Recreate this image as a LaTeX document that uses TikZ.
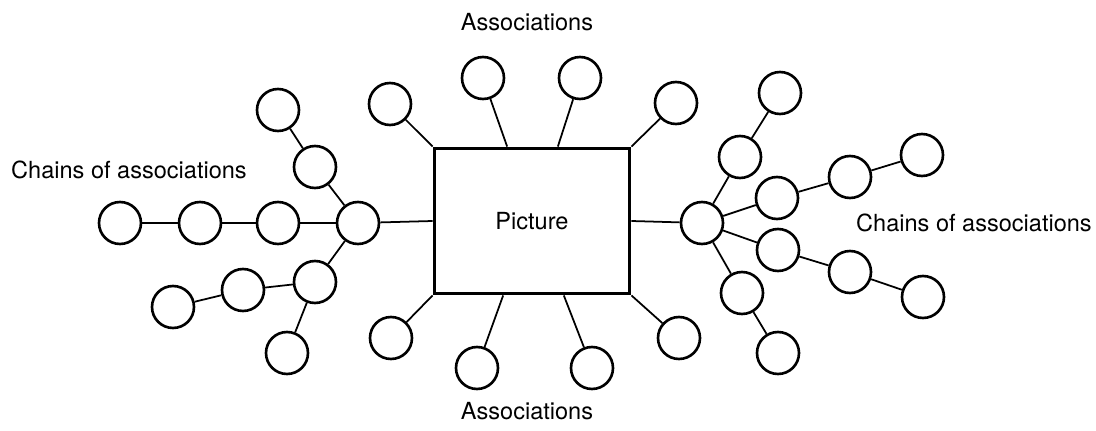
\documentclass[tikz,border=0pt]{standalone}
\usepackage{fontspec}
\setmainfont{TeX Gyre Heros}
\usepackage{tikz}
\usetikzlibrary{calc}
\tikzset{
  assoc/.style = {draw, circle, line width=1.5pt, inner sep=0pt, minimum size=0.84cm},
  frame/.style = {draw, line width=2.2pt, rectangle, minimum width=3.9cm,
                  minimum height=2.9cm, align=center},
  link/.style  = {line width=1pt},
}
\begin{document}
\begin{tikzpicture}[x=0.02cm,y=0.02cm,font=\fontsize{13.4}{16}\selectfont]
\useasboundingbox (0,0) rectangle (1096,430);
\node[frame] (pic) at (532,209) {Picture};
% associations above and below
\node[assoc] (t1) at (390,326) {};
\node[assoc] (t2) at (483,352) {};
\node[assoc] (t3) at (580,352) {};
\node[assoc] (t4) at (676,327) {};
\node[assoc] (b1) at (391,92) {};
\node[assoc] (b2) at (477,62) {};
\node[assoc] (b3) at (592,62) {};
\node[assoc] (b4) at (679,92) {};
\coordinate (pt2) at ($(pic.north west)!0.375!(pic.north east)$);
\coordinate (pt3) at ($(pic.north west)!0.63!(pic.north east)$);
\coordinate (pb2) at ($(pic.south west)!0.355!(pic.south east)$);
\coordinate (pb3) at ($(pic.south west)!0.66!(pic.south east)$);
\draw[link] (t1) -- (pic.north west);
\draw[link] (t2) -- (pt2);
\draw[link] (t3) -- (pt3);
\draw[link] (t4) -- (pic.north east);
\draw[link] (b1) -- (pic.south west);
\draw[link] (b2) -- (pb2);
\draw[link] (b3) -- (pb3);
\draw[link] (b4) -- (pic.south east);
% left chains
\node[assoc] (lh) at (358,207) {};
\node[assoc] (l1) at (278,207) {};
\node[assoc] (l2) at (200,207) {};
\node[assoc] (l3) at (120,207) {};
\node[assoc] (lu1) at (315,263) {};
\node[assoc] (lu2) at (278,320) {};
\node[assoc] (ld1) at (315,148) {};
\node[assoc] (ld2) at (243,140) {};
\node[assoc] (ld3) at (173,123) {};
\node[assoc] (ld4) at (287,77) {};
\draw[link] (pic.west) -- (lh);
\draw[link] (lh) -- (l1) -- (l2) -- (l3);
\draw[link] (lh) -- (lu1) -- (lu2);
\draw[link] (lh) -- (ld1) -- (ld2) -- (ld3);
\draw[link] (ld1) -- (ld4);
% right chains
\node[assoc] (rh) at (702,207) {};
\node[assoc] (ru1) at (740,273) {};
\node[assoc] (ru2) at (780,337) {};
\node[assoc] (rs1) at (777,232) {};
\node[assoc] (rs2) at (850,253) {};
\node[assoc] (rs3) at (922,275) {};
\node[assoc] (rq1) at (778,180) {};
\node[assoc] (rq2) at (850,158) {};
\node[assoc] (rq3) at (923,133) {};
\node[assoc] (rd1) at (742,137) {};
\node[assoc] (rd2) at (778,77) {};
\draw[link] (pic.east) -- (rh);
\draw[link] (rh) -- (ru1) -- (ru2);
\draw[link] (rh) -- (rs1) -- (rs2) -- (rs3);
\draw[link] (rh) -- (rq1) -- (rq2) -- (rq3);
\draw[link] (rh) -- (rd1) -- (rd2);
% labels
\node (top) at (527,408) {Associations};
\node (bot) at (527,19) {Associations};
\node (cl) at (129,260) {Chains of associations};
\node (cr) at (974,207) {Chains of associations};
\end{tikzpicture}
\end{document}
